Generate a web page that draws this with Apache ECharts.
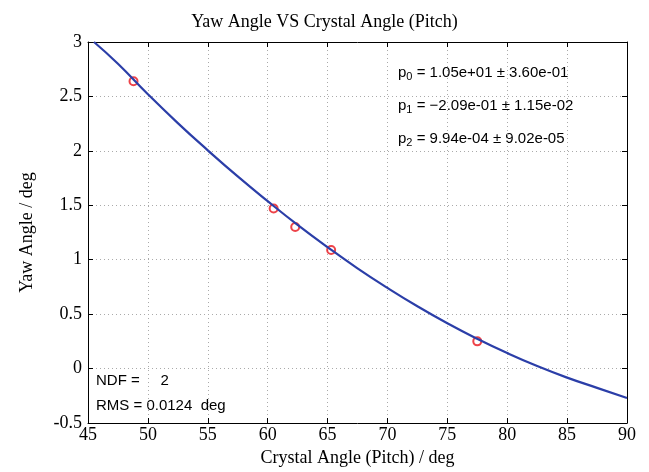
<!DOCTYPE html>
<html><head><meta charset="utf-8">
<script src="https://cdn.jsdelivr.net/npm/echarts@6/dist/echarts.min.js"></script>
<style>html,body{margin:0;background:#fff}#c{width:649px;height:472px}</style>
</head><body><div id="c"></div>
<script>
// measured points
var pitch = [48.8, 60.5, 62.3, 65.3, 77.5];
var yaw = [2.64, 1.47, 1.30, 1.09, 0.25];
// fit curve
var fitX = [45.5, 47.5, 50, 52.5, 55, 57.5, 60, 62.5, 65, 67.5, 70, 72.5, 75, 77.5, 80, 82.5, 85, 87.5, 90];
var fitY = [3.0, 2.80, 2.52, 2.255, 2.005, 1.765, 1.538, 1.320, 1.115, 0.921, 0.741, 0.572, 0.416, 0.273, 0.142, 0.023, -0.083, -0.177, -0.27];

var pts = pitch.map(function (v, i) { return [v, yaw[i]]; });
var fit = fitX.map(function (v, i) { return [v, fitY[i]]; });

var chart = echarts.init(document.getElementById('c'));
var serif = 'Liberation Serif';
var grid = { left: 88, right: 22, top: 42, bottom: 48 };
var axisBase = {
    axisLine: { show: true, onZero: false, lineStyle: { color: '#000' } },
    axisTick: { show: true, inside: true, length: 5, lineStyle: { color: '#000' } }
};
chart.setOption({
    animation: false,
    title: {
        text: 'Yaw Angle VS Crystal Angle (Pitch)', left: 'center', top: 8,
        textStyle: { fontFamily: serif, fontSize: 18, fontWeight: 'normal', color: '#000' }
    },
    grid: grid,
    xAxis: [
        Object.assign({
            type: 'value', min: 45, max: 90, interval: 5,
            name: 'Crystal Angle (Pitch) / deg', nameLocation: 'middle', nameGap: 26,
            nameTextStyle: { fontFamily: serif, fontSize: 18, color: '#000' },
            axisLabel: { fontFamily: serif, fontSize: 18, color: '#000', margin: 3 },
            splitLine: { show: true, lineStyle: { color: '#aaa', type: [1, 3] } }
        }, axisBase),
        Object.assign({ type: 'value', min: 45, max: 90, interval: 5, position: 'top',
            axisLabel: { show: false }, splitLine: { show: false } }, axisBase)
    ],
    yAxis: [
        Object.assign({
            type: 'value', min: -0.5, max: 3, interval: 0.5,
            name: 'Yaw Angle / deg', nameLocation: 'middle', nameGap: 52,
            nameTextStyle: { fontFamily: serif, fontSize: 18, color: '#000' },
            axisLabel: { fontFamily: serif, fontSize: 18, color: '#000', margin: 6 },
            splitLine: { show: true, lineStyle: { color: '#aaa', type: [1, 3] } }
        }, axisBase),
        Object.assign({ type: 'value', min: -0.5, max: 3, interval: 0.5, position: 'right',
            axisLabel: { show: false }, splitLine: { show: false } }, axisBase)
    ],
    graphic: [
        { type: 'text', left: 398, top: 65, style: { rich: richT(), text: '{a|p}{s|0}{a| = 1.05e+01 ± 3.60e-01}' } },
        { type: 'text', left: 398, top: 98, style: { rich: richT(), text: '{a|p}{s|1}{a| = −2.09e-01 ± 1.15e-02}' } },
        { type: 'text', left: 398, top: 131, style: { rich: richT(), text: '{a|p}{s|2}{a| = 9.94e-04 ± 9.02e-05}' } },
        { type: 'text', left: 96, top: 373, style: { text: 'NDF =     2', font: '15px Liberation Sans', fill: '#000' } },
        { type: 'text', left: 96, top: 398, style: { text: 'RMS = 0.0124  deg', font: '15px Liberation Sans', fill: '#000' } }
    ],
    series: [
        { type: 'line', data: fit, smooth: true, showSymbol: false,
          lineStyle: { color: '#2b3ea8', width: 2.2 } },
        { type: 'scatter', data: pts, symbol: 'circle', symbolSize: 8,
          itemStyle: { color: 'rgba(0,0,0,0)', borderColor: '#e8141c', borderWidth: 2 } }
    ]
});
function richT() {
    return {
        a: { fontFamily: 'Liberation Sans', fontSize: 15, color: '#000', lineHeight: 19 },
        s: { fontFamily: 'Liberation Sans', fontSize: 11, color: '#000', padding: [9, 0, 0, 0] }
    };
}
</script></body></html>
